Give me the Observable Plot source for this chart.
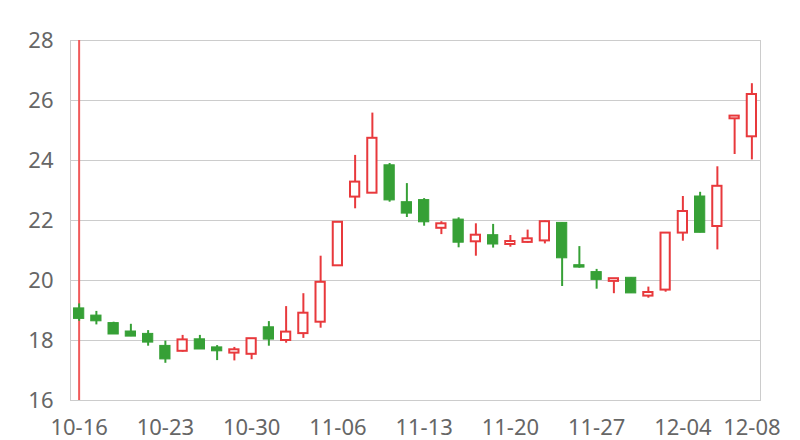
<!DOCTYPE html>
<html>
<head>
<meta charset="utf-8">
<script src="https://cdn.jsdelivr.net/npm/d3@7"></script>
<script src="https://cdn.jsdelivr.net/npm/@observablehq/plot@0.6"></script>
<style>
  html, body { margin: 0; padding: 0; background: #fff; }
  #chart { width: 800px; height: 440px; }
</style>
</head>
<body>
<div id="chart"></div>
<script>
const dates = ["10-16","10-17","10-20","10-21","10-22","10-23","10-24","10-27","10-28","10-29",
  "10-30","10-31","11-03","11-04","11-05","11-06","11-07","11-10","11-11","11-12",
  "11-13","11-14","11-17","11-18","11-19","11-20","11-21","11-24","11-25","11-26",
  "11-27","11-28","12-01","12-02","12-03","12-04","12-05","12-06","12-07","12-08"];
const open  = [19.07,18.83,18.58,18.30,18.22,17.82,17.64,18.04,17.77,17.58,
  17.54,18.44,18.00,18.23,18.61,20.49,22.78,22.91,23.84,22.61,
  22.68,21.74,22.03,21.29,21.51,21.20,21.27,21.32,21.92,20.51,
  20.28,19.97,20.09,19.48,19.68,21.58,22.80,21.80,25.39,24.79];
const close = [18.72,18.64,18.20,18.13,17.93,17.37,18.02,17.70,17.64,17.69,
  18.06,18.03,18.28,18.91,19.94,21.94,23.28,24.74,22.67,22.23,
  21.94,21.89,21.26,21.51,21.20,21.30,21.39,21.96,20.74,20.43,
  20.02,20.06,19.57,19.60,21.58,22.30,21.59,23.14,25.48,26.20];
const low   = [18.64,18.52,18.20,18.13,17.81,17.24,17.61,17.70,17.33,17.32,
  17.36,17.81,17.91,18.07,18.41,20.49,22.39,22.91,22.61,22.10,
  21.81,21.53,21.09,20.81,21.08,21.11,21.24,21.22,19.80,20.41,
  19.71,19.56,19.57,19.41,19.61,21.31,21.59,21.02,24.20,24.02];
const high  = [19.22,18.97,18.61,18.54,18.33,17.98,18.17,18.17,17.83,17.77,
  18.06,18.63,19.13,19.56,20.81,21.94,24.17,25.58,23.90,23.23,
  22.73,21.96,22.09,21.89,21.87,21.50,21.68,21.98,21.92,21.13,
  20.37,20.06,20.09,19.78,21.58,22.80,22.94,23.79,25.48,26.56];
const yTicks = [16, 18, 20, 22, 24, 26, 28];
const xTicks = ["10-16","10-23","10-30","11-06","11-13","11-20","11-27","12-04","12-08"];
const markerDate = "10-16";

const RED = "#e8393c";
const GREEN = "#36a036";

const data = dates.map((d, i) => ({date: d, open: open[i], close: close[i], low: low[i], high: high[i]}));
const up = data.filter(d => d.close >= d.open);
const down = data.filter(d => d.close < d.open);

const chart = Plot.plot({
  width: 800,
  height: 440,
  marginLeft: 70,
  marginRight: 40,
  marginTop: 40,
  marginBottom: 40,
  style: {fontFamily: "'Noto Sans', 'Open Sans', sans-serif", fontSize: "22px", color: "#666", background: "#fff"},
  x: {type: "band", domain: dates, padding: 0, round: false, label: null},
  y: {domain: [16, 28], label: null},
  marks: [
    Plot.gridY(yTicks, {stroke: "#ccc", strokeOpacity: 1}),
    Plot.frame({stroke: "#ccc"}),
    Plot.axisY(yTicks, {tickSize: 0, tickPadding: 17, label: null, fontSize: 22}),
    Plot.axisX(xTicks, {tickSize: 0, tickPadding: 19, label: null, fontSize: 22}),
    Plot.ruleX([markerDate], {stroke: "#f05a5a", strokeWidth: 2}),
    Plot.ruleX(data, {x: "date", y1: "low", y2: "high", stroke: d => d.close >= d.open ? RED : GREEN, strokeWidth: 2}),
    Plot.barY(up, {x: "date", y1: "open", y2: "close", fill: "#fff", stroke: RED, strokeWidth: 2, insetLeft: 4, insetRight: 4}),
    Plot.barY(down, {x: "date", y1: "open", y2: "close", fill: GREEN, stroke: GREEN, strokeWidth: 1, insetLeft: 3.5, insetRight: 3.5})
  ]
});
document.getElementById("chart").appendChild(chart);
</script>
</body>
</html>
